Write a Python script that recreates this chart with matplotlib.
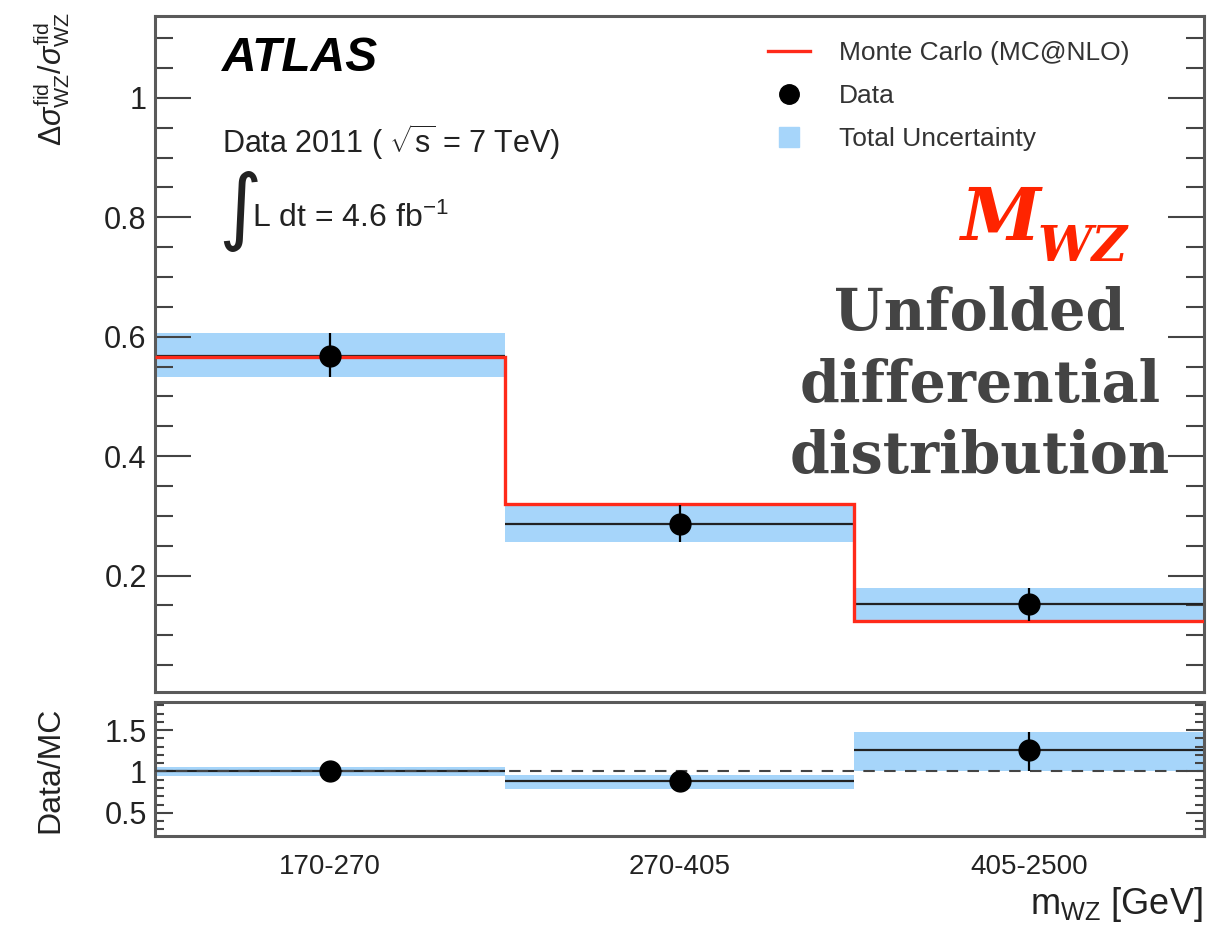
import matplotlib
matplotlib.use("Agg")
import matplotlib.pyplot as plt
import numpy as np
from matplotlib.lines import Line2D
from matplotlib.ticker import MultipleLocator, FuncFormatter

# Unfolded WZ differential cross section in bins of m_WZ
bin_labels = ["170-270", "270-405", "405-2500"]
data_val = [0.568, 0.287, 0.153]
data_lo = [0.533, 0.257, 0.124]
data_hi = [0.606, 0.318, 0.179]
mc_val = [0.566, 0.320, 0.124]

# Data / MC ratio
ratio_val = [1.00, 0.89, 1.26]
ratio_lo = [0.945, 0.79, 1.00]
ratio_hi = [1.06, 0.96, 1.48]

plt.rcParams["font.family"] = ["Liberation Sans", "DejaVu Sans"]
plt.rcParams["mathtext.fontset"] = "custom"
plt.rcParams["mathtext.rm"] = "Liberation Sans"
plt.rcParams["mathtext.it"] = "Liberation Sans:italic"
plt.rcParams["mathtext.bf"] = "Liberation Sans:bold"

BLUE = "#a6d5fa"
RED = "#ff2a1a"
TXT = "#222222"
SPINE = "#5a5a5a"

W, H = 1231, 933
fig = plt.figure(figsize=(W / 100, H / 100), dpi=100)


def fx(px):
    return px / W


def fy(py):
    return 1 - py / H


ax = fig.add_axes([fx(155), fy(692), fx(1204) - fx(155), fy(16) - fy(692)])
ax2 = fig.add_axes([fx(155), fy(836), fx(1204) - fx(155), fy(702) - fy(836)])

n = len(bin_labels)
edges = np.arange(n + 1)
centers = edges[:-1] + 0.5
lo = np.array(data_lo)
hi = np.array(data_hi)
dv = np.array(data_val)

# ---- main panel ----
ax.bar(centers, hi - lo, bottom=lo, width=1.0, color=BLUE, lw=0, zorder=1)
ax.hlines(dv, edges[:-1], edges[1:], color="#222222", lw=1.6, zorder=2)
ax.stairs(mc_val, edges, baseline=None, color=RED, lw=2.4, zorder=3)
ax.errorbar(centers, dv, yerr=[dv - lo, hi - dv], fmt="o", ms=15, color="k",
            elinewidth=1.6, capsize=0, zorder=4)

ax.set_xlim(0, n)
ax.set_ylim(0.005, 1.137)
ax.yaxis.set_major_locator(MultipleLocator(0.2))
ax.yaxis.set_minor_locator(MultipleLocator(0.05))
ax.yaxis.set_major_formatter(FuncFormatter(lambda v, p: f"{v:g}"))
ax.tick_params(axis="y", which="both", direction="in", left=True, right=True,
               color="#444444", width=1.5, labelsize=22, labelcolor=TXT, pad=6)
ax.tick_params(axis="y", which="major", length=26)
ax.tick_params(axis="y", which="minor", length=13)
ax.tick_params(axis="x", which="both", bottom=False, top=False, labelbottom=False)

# ---- ratio panel ----
rlo = np.array(ratio_lo)
rhi = np.array(ratio_hi)
rv = np.array(ratio_val)
ax2.bar(centers, rhi - rlo, bottom=rlo, width=1.0, color=BLUE, lw=0, zorder=1)
ax2.hlines(rv, edges[:-1], edges[1:], color="#222222", lw=1.6, zorder=2)
ax2.axhline(1.0, color="#444444", lw=1.5, ls=(0, (5.5, 4.5)), zorder=3)
ax2.errorbar(centers, rv, yerr=[rv - rlo, rhi - rv], fmt="o", ms=15, color="k",
             elinewidth=1.6, capsize=0, zorder=4)
ax2.set_xlim(0, n)
ax2.set_ylim(0.22, 1.84)
ax2.yaxis.set_major_locator(MultipleLocator(0.5))
ax2.yaxis.set_minor_locator(MultipleLocator(0.1))
ax2.yaxis.set_major_formatter(FuncFormatter(lambda v, p: f"{v:g}"))
ax2.tick_params(axis="y", which="both", direction="in", left=True, right=True,
                color="#444444", width=1.5, labelsize=22, labelcolor=TXT, pad=6)
ax2.tick_params(axis="y", which="major", length=13)
ax2.tick_params(axis="y", which="minor", length=6.5)
ax2.set_xticks(centers, bin_labels)
ax2.tick_params(axis="x", which="both", length=0, labelsize=20, labelcolor=TXT, pad=13)

for a in (ax, ax2):
    for s in a.spines.values():
        s.set_color(SPINE)
        s.set_linewidth(2.2)

# ---- axis titles ----
fig.text(fx(52), fy(12),
         r"$\Delta\sigma^{\rm fid}_{\rm WZ}/\sigma^{\rm fid}_{\rm WZ}$",
         rotation=90, ha="center", va="top", fontsize=22, color=TXT)
fig.text(fx(50), fy(770), "Data/MC", rotation=90, ha="center", va="center",
         fontsize=23, color=TXT)
fig.text(fx(1203), fy(905), r"m$_{\rm WZ}$ [GeV]", ha="right", va="center",
         fontsize=26, color=TXT)

# ---- ATLAS labels ----
fig.text(fx(222), fy(71), "ATLAS", fontsize=34.5, fontweight="bold",
         fontstyle="italic", color="k", ha="left", va="baseline")
fig.text(fx(222), fy(153), r"Data 2011 ( $\sqrt{\rm s}$ = 7 TeV)", fontsize=22,
         color=TXT, ha="left", va="baseline")
fig.text(fx(218), fy(212), "\u222b", family="DejaVu Sans", fontsize=60,
         color=TXT, ha="left", va="center")
fig.text(fx(252), fy(227), r"L dt = 4.6 fb$^{-1}$", fontsize=23, color=TXT,
         ha="left", va="baseline")

# ---- legend ----
handles = [
    Line2D([], [], color=RED, lw=2.4),
    Line2D([], [], marker="o", ls="none", color="k", ms=14),
    Line2D([], [], marker="s", ls="none", color=BLUE, ms=15),
]
labels = ["Monte Carlo (MC@NLO)", "Data", "Total Uncertainty"]
leg = ax.legend(handles, labels, loc="upper left",
                bbox_to_anchor=(fx(768), fy(41)), bbox_transform=fig.transFigure,
                frameon=False, fontsize=19, handlelength=1.6, handletextpad=1.1,
                labelspacing=0.72, borderpad=0, borderaxespad=0)
for t in leg.get_texts():
    t.set_color("#333333")

# ---- annotation on the right ----
tm = fig.text(fx(960), fy(240), "M", family="DejaVu Serif", fontsize=52,
              fontweight="bold", fontstyle="italic", color="#ff2400",
              ha="left", va="baseline")
ax.annotate("WZ", xy=(1.0, 0.0), xycoords=tm, xytext=(-2, -4),
            textcoords="offset points", family="DejaVu Serif", fontsize=35,
            fontweight="bold", fontstyle="italic", color="#ff2400",
            ha="left", va="baseline", annotation_clip=False)
for txt, yb in [("Unfolded", 330), ("differential", 402), ("distribution", 473)]:
    fig.text(fx(980), fy(yb), txt, family="DejaVu Serif", fontsize=41,
             fontweight="bold", color="#444444", ha="center", va="baseline")

fig.savefig("out.png", dpi=100)
